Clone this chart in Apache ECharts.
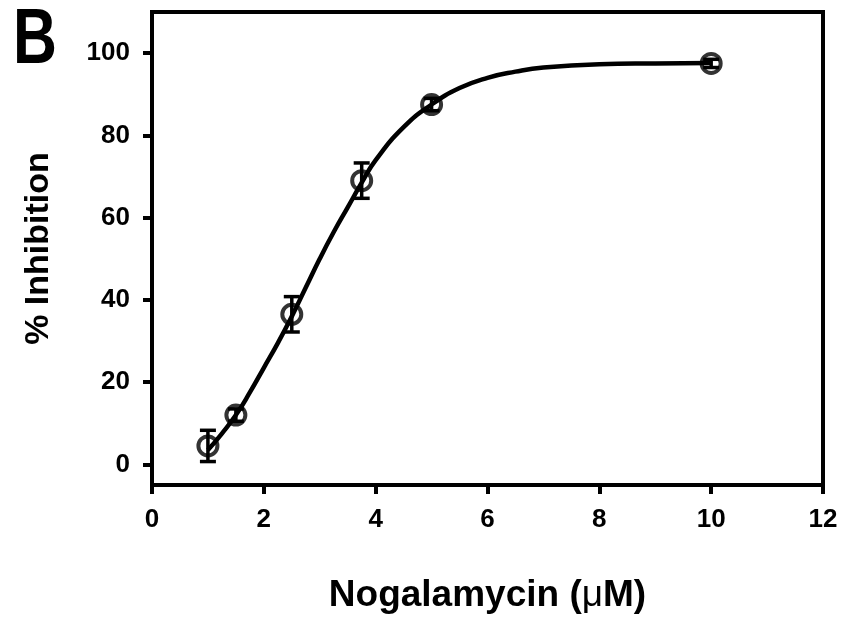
<!DOCTYPE html>
<html>
<head>
<meta charset="utf-8">
<script src="https://cdn.jsdelivr.net/npm/echarts@6/dist/echarts.min.js"></script>
<style>
  html, body { margin: 0; padding: 0; background: #fff; }
  #chart { width: 845px; height: 621px; }
</style>
</head>
<body>
<div id="chart"></div>
<script>
// measured points (Nogalamycin uM vs % inhibition)
var doseX = [1, 1.5, 2.5, 3.75, 5, 10];
var inhibition = [4.5, 12, 36.5, 69, 87.5, 97.5];
var errBar = [3.8, 1.5, 4.3, 4.3, 1.5, 1];

// fitted curve
var fitX = [1, 1.25, 1.5, 1.75, 2, 2.25, 2.5, 2.75, 3, 3.25, 3.5, 3.75, 4, 4.5, 5, 5.5, 6, 6.5, 7, 8, 9, 10];
var fitY = [3.5, 7.5, 12, 17.5, 23.5, 29.5, 36, 43, 50, 56.5, 62.5, 68.5, 74, 82, 87.5, 91.5, 94, 95.5, 96.5, 97.3, 97.5, 97.6];

var yTicks = [0, 20, 40, 60, 80, 100];

var fontFam = '"Liberation Sans", Arial, sans-serif';

var dom = document.getElementById('chart');
var myChart = echarts.init(dom);

var pts = doseX.map(function (x, i) { return [x, inhibition[i]]; });
var errs = doseX.map(function (x, i) { return [x, inhibition[i] - errBar[i], inhibition[i] + errBar[i]]; });
var fit = fitX.map(function (x, i) { return [x, fitY[i]]; });

var option = {
    animation: false,
    backgroundColor: '#fff',
    grid: {
        left: 152, right: 22, top: 12, bottom: 136,
        show: true, borderColor: '#000', borderWidth: 4
    },
    graphic: [{
        type: 'text', left: 13, top: 2, scaleX: 0.78,
        style: { text: 'B', font: 'bold 78px ' + fontFam, fill: '#000' }
    }],
    xAxis: {
        type: 'value', min: 0, max: 12, interval: 2,
        splitLine: { show: false },
        axisLine: { onZero: false, lineStyle: { color: '#000', width: 4 } },
        axisTick: { length: 9, lineStyle: { color: '#000', width: 4 } },
        axisLabel: { margin: 22, color: '#000', fontSize: 26, fontWeight: 'bold', fontFamily: fontFam },
        name: 'Nogalamycin ({m|μ}M)',
        nameLocation: 'middle', nameGap: 92,
        nameTextStyle: {
            color: '#000', fontSize: 37, fontWeight: 'bold', fontFamily: fontFam,
            rich: { m: { fontSize: 37, fontWeight: 'normal', fontFamily: fontFam, color: '#000' } }
        }
    },
    yAxis: {
        type: 'value', min: -5, max: 110,
        splitLine: { show: false },
        axisLine: { onZero: false, lineStyle: { color: '#000', width: 4 } },
        axisTick: { length: 9, customValues: yTicks, lineStyle: { color: '#000', width: 4 } },
        axisLabel: { margin: 22, customValues: yTicks, color: '#000', fontSize: 26, fontWeight: 'bold', fontFamily: fontFam },
        name: '% Inhibition',
        nameLocation: 'middle', nameGap: 96,
        nameTextStyle: { color: '#000', fontSize: 34, fontWeight: 'bold', fontFamily: fontFam }
    },
    series: [
        {
            name: 'fit',
            type: 'line',
            data: fit,
            smooth: true,
            showSymbol: false,
            lineStyle: { color: '#000', width: 4.5 },
            z: 2
        },
        {
            name: 'err',
            type: 'custom',
            data: errs,
            renderItem: function (params, api) {
                var x = api.value(0);
                var lo = api.coord([x, api.value(1)]);
                var hi = api.coord([x, api.value(2)]);
                var w = 8;
                var st = { stroke: '#000', lineWidth: 3.5 };
                return {
                    type: 'group',
                    children: [
                        { type: 'line', shape: { x1: lo[0], y1: lo[1], x2: hi[0], y2: hi[1] }, style: st },
                        { type: 'line', shape: { x1: lo[0] - w, y1: lo[1], x2: lo[0] + w, y2: lo[1] }, style: st },
                        { type: 'line', shape: { x1: hi[0] - w, y1: hi[1], x2: hi[0] + w, y2: hi[1] }, style: st }
                    ]
                };
            },
            z: 3
        },
        {
            name: 'data',
            type: 'scatter',
            data: pts,
            symbol: 'circle',
            symbolSize: 19,
            itemStyle: { color: 'rgba(255,255,255,0)', borderColor: '#000', borderWidth: 4 },
            z: 4
        }
    ]
};

if (option && typeof option === "object") {
    myChart.setOption(option, true);
}
</script>
</body>
</html>
